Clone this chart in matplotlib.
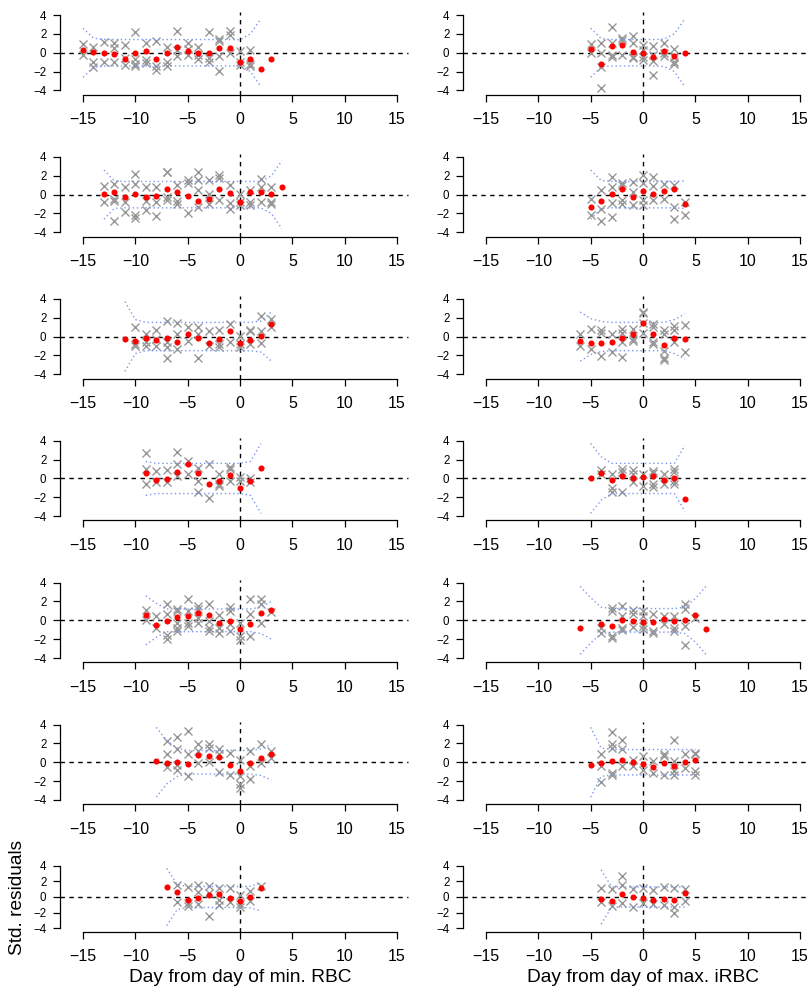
import numpy as np
import matplotlib
matplotlib.use('Agg')
import matplotlib.pyplot as plt

nan = np.nan

# ---------------------------------------------------------------------------
# left column: day from day of min. RBC
left_start = [-15, -13, -11, -9, -9, -8, -7]

left_mean = [
    [0.28, 0.1, 0, -0.1, -0.7, 0, 0.18, -0.7, 0, 0.63, 0.18, 0, 0, 0.46, 0.53, -1.0, -0.67, -1.73, -0.67],
    [0.05, 0.25, -0.28, 0.1, -0.28, -0.18, 0.57, 0.25, -0.18, -0.7, -0.42, 0.57, 0.18, -0.74, 0.25, 0.25, 0.07, 0.78],
    [-0.25, -0.43, -0.15, -0.36, -0.15, -0.54, 0.22, -0.15, -0.65, -0.25, 0.58, -0.65, -0.36, 0.04, 1.37],
    [0.58, -0.18, -0.07, 0.72, 1.55, 0.54, -0.61, -0.25, 0.4, -0.97, -0.25, 1.08],
    [0.58, -0.5, -0.1, 0.36, 0.47, 0.76, 0.58, -0.29, -0.07, -0.95, -0.4, 0.8, 1.09],
    [0.18, -0.07, 0.07, -0.14, 0.76, 0.65, 0.54, -0.32, -0.97, -0.04, 0.5, 0.83],
    [1.25, 0.6, -0.4, -0.1, 0.3, 0.35, -0.1, -0.5, 0.0, 1.1],
]

left_band = [
    [2.6, 1.55, 1.42, 1.4, 1.4, 1.4, 1.4, 1.4, 1.4, 1.4, 1.4, 1.4, 1.4, 1.4, 1.4, 1.38, 2.0, 3.6],
    [2.6, 1.45, 1.4, 1.4, 1.4, 1.4, 1.4, 1.4, 1.4, 1.4, 1.4, 1.4, 1.4, 1.4, 1.4, 1.4, 2.0, 3.6],
    [3.7, 1.8, 1.5, 1.5, 1.5, 1.5, 1.5, 1.5, 1.5, 1.5, 1.5, 1.5, 1.5, 1.65, 2.6],
    [1.8, 1.6, 1.6, 1.6, 1.6, 1.6, 1.6, 1.6, 1.6, 1.6, 1.8, 3.7],
    [2.6, 1.8, 1.2, 1.2, 1.2, 1.2, 1.2, 1.2, 1.2, 1.2, 1.2, 1.4, 2.0],
    [3.7, 2.3, 1.5, 1.25, 1.25, 1.25, 1.25, 1.25, 1.25, 1.25, 1.4, 1.9],
    [3.7, 1.6, 1.35, 1.35, 1.35, 1.35, 1.35, 1.35, 1.4, 1.8],
]

# single residuals, one list per day starting at left_start
left_resid = [
    [[0.9, -0.25], [0.65, -0.95, -1.5], [1.15, -0.95], [1.0, 0.45, -0.95], [0.8, -0.6, -1.3],
     [2.25, -0.7, -1.15, -1.4], [1.0, -0.8, -1.05], [1.2, -1.4, -1.85], [0.65, -0.95, -1.4],
     [2.35, 0.3, -0.35], [1.0, 0.35, -0.25], [0.65, -0.25, -0.7], [2.15, -0.6, -0.95],
     [1.5, 1.2, -0.35, -1.9], [2.35, 1.9, -0.05], [0.2, -0.95, -1.3], [0.3, -1.15, -1.4], [], []],
    [[0.9, -0.78], [1.15, -0.42, -0.67, -2.8], [0.8, -0.78, -1.85], [2.15, 1.15, -2.2, -2.5],
     [0.8, -0.7, -1.65], [0.8, -0.78, -2.3], [2.45, 2.35, -0.25, -0.6], [1.0, -0.67, -0.95],
     [1.5, 1.25, -1.95], [2.35, 1.6, 0.45, -1.3], [1.6, 0.1, -0.95], [2.05, 1.8, -0.6],
     [1.0, -0.9, -1.5], [0.1, -0.78, -1.15], [0.53, -0.78, -1.15], [1.7, 0.8, -0.78],
     [0.8, -0.78, -0.95], []],
    [[], [1.0, -0.8, -0.97], [0.22, -0.6, -0.97], [0.72, -0.25, -0.97], [1.65, -0.6, -1.15, -2.3],
     [1.45, 0.3, -1.33], [1.0, -0.43], [1.0, 0.3, -2.23], [0.58, -0.97], [0.72, -0.8, -1.08],
     [1.37, -0.6], [0.1, -0.8, -1.08], [0.72, 0.58, -0.8], [2.15, 0.58, -0.72], [1.9, 1.0]],
    [[2.7, 1.0, -0.61], [0.83, -0.43], [0.9, -0.36], [2.8, 1.55, 0.29], [1.9, 0.47],
     [1.08, -0.25, -1.4], [1.55, -2.05], [0.47, -0.61, -0.8], [1.26, 1.0, -0.25], [0.1, -0.25],
     [0.04, -0.43], []],
    [[1.09, 0.0], [0.47, -0.8], [1.75, 0.65, -1.53, -1.96], [1.2, 1.02, -0.25, -0.8, -1.16],
     [2.29, 1.02, -0.25, -0.62], [1.56, 1.2, 0.29, -0.25], [1.75, -0.07, -0.8, -1.16],
     [0.58, -0.8, -1.35], [1.45, 1.02, -0.44, -1.09], [-0.25, -1.71, -2.07], [2.29, 0.65, -1.71],
     [2.29, 1.75, -0.25], [0.84]],
    [[], [2.27, 0.83, -0.54], [2.63, 1.37, -0.25, -0.79], [3.28, 0.9, -1.51], [1.98, 1.19, -0.07],
     [1.9, 1.55, 0.0], [1.37, 0.83, -1.05], [1.0, -1.33], [0.29, -1.51, -2.34, -2.7],
     [1.19, -0.43, -1.77], [1.9, -0.07], [1.19, 0.47]],
    [[], [1.5, -0.6], [1.3, -0.8, -1.2], [1.5, 0.6, -0.9], [1.4, 0.5, -2.5], [1.2, -0.4, -1.0],
     [1.2, -0.6], [0.2, -0.9, -1.3], [0.8, -0.5], [1.4]],
]

# ---------------------------------------------------------------------------
# right column: day from day of max. iRBC
right_start = [-5, -5, -6, -5, -6, -5, -4]

right_mean = [
    [0.4, -1.2, 0.7, 0.8, 0.07, 0, -0.43, 0.2, -0.35, 0],
    [-1.35, -0.7, 0.04, 0.57, -0.28, 0.35, 0.07, 0.35, 0.57, -1.03],
    [-0.43, -0.65, -0.65, -0.58, -0.15, 0.3, 1.48, 0.3, -0.86, -0.15, -0.25],
    [0.04, 0.58, -0.18, 0.29, 0.04, 0.18, 0.29, -0.18, 0.04, -2.16],
    [-0.85, nan, -0.35, -0.6, 0, -0.07, -0.18, -0.18, 0.14, -0.07, 0, 0.57, -0.96],
    [-0.32, -0.04, 0.11, 0.29, 0, -0.22, -0.54, -0.11, -0.43, 0, 0.22],
    [-0.2, -0.5, 0.4, 0.0, -0.1, -0.4, -0.3, -0.4, 0.5],
]

right_band = [
    [2.6, 1.5, 1.4, 1.4, 1.4, 1.4, 1.4, 1.45, 2.0, 3.6],
    [2.6, 1.5, 1.4, 1.4, 1.4, 1.4, 1.4, 1.4, 1.4, 1.45],
    [2.6, 1.9, 1.6, 1.5, 1.5, 1.5, 1.5, 1.5, 1.5, 1.8, 2.4],
    [3.7, 2.3, 1.6, 1.6, 1.6, 1.6, 1.6, 1.6, 1.6, 3.5],
    [3.6, 2.4, 1.4, 1.25, 1.25, 1.25, 1.25, 1.25, 1.25, 1.25, 1.4, 2.3, 3.6],
    [3.7, 1.5, 1.35, 1.35, 1.35, 1.35, 1.35, 1.35, 1.35, 1.35, 1.35],
    [3.5, 1.3, 1.3, 1.3, 1.3, 1.3, 1.3, 1.3, 1.3],
]

right_resid = [
    [[0.9, 0], [1.0, 0, -1.5, -3.7], [2.75, 1.0, -0.25, -0.5], [1.6, 1.35, -0.25],
     [1.75, 1.0, -0.43, -0.6], [0.8, 0.3, -0.43, -0.8], [0.7, -0.25, -0.9, -2.4],
     [1.0, -0.07, -0.35], [0.35, -0.43, -0.95, -1.15], []],
    [[-0.42, -2.2], [0.45, -1.5, -2.8], [1.85, 0.8, -0.85, -2.35], [1.25, 1.0, -0.6, -0.95],
     [1.35, 0.28, -1.15], [2.05, 1.25, -0.6, -1.05], [1.85, 0.9, -0.6], [1.15, -0.42],
     [1.0, -1.3, -2.55], [-0.78, -2.2]],
    [[0.22, -0.97], [0.83, -1.33], [0.72, 0.36, -2.05], [0.22, -1.6], [0.83, 0.36, -0.6, -2.16],
     [0.83, -0.25, -0.5], [2.63, 2.45, 1.45, 0.36], [1.37, 1.0, -0.6, -0.8],
     [0.65, 0.3, -1.5, -2.23, -2.5], [1.08, 0.65, -0.6], [1.2, -1.6]],
    [[], [0.9, 0.47], [0.47, -0.97, -1.4], [1.0, 0.65, -1.4], [0.9, 0.47, -0.43], [0.47, -0.8],
     [0.83, 0.54, -0.61, -0.9], [0.47, -0.54], [1.0, 0.65, -0.25, -0.61], []],
    [[], [], [-0.78, -1.31], [1.35, 1.0, -1.66, -1.9], [1.52, 0.46, -0.78, -1.06],
     [1.06, 0.64, -0.71], [1.0, 0.46, -0.6, -0.96], [0.64, -1.13, -1.31], [0.46, -0.42],
     [0.46, -0.78, -1.13], [1.7, 1.17, -0.6, -2.62], [0.28], []],
    [[], [0.83, -0.43, -2.05], [3.17, 1.9, 1.55, -1.15, -1.33], [2.34, 1.37, -0.43], [0.29, -0.43],
     [0.65, -0.79], [0.18, -1.15], [0.83, 0.65, -1.33], [2.34, 0.11, -0.97, -1.33], [0.9, -0.61],
     [1.0, 0.83, -0.97, -1.4]],
    [[1.1, -0.6], [1.0, -1.2], [2.7, 1.5, -0.8], [1.0, -1.3], [1.2, -0.8], [0.9, -0.9],
     [1.3, -1.0], [1.2, -1.3, -2.0], [1.0, -0.5]],
]

x_ticks = [-15, -10, -5, 0, 5, 10, 15]
y_ticks = [-4, -2, 0, 2, 4]
x_labels = ['Day from day of min. RBC', 'Day from day of max. iRBC']
y_label = 'Std. residuals'

W, H = 809, 998


def add_px_axes(fig, x0, x1, top, bottom):
    return fig.add_axes([x0 / W, 1 - bottom / H, (x1 - x0) / W, (bottom - top) / H])


def draw_panel(ax, start, mean, band, resid):
    # reference lines
    ax.axhline(0, xmin=0, xmax=0.967, color='black', lw=1.0, ls=(0, (3.2, 3.2)), zorder=1)
    ax.axvline(0, color='black', lw=1.0, ls=(0, (3.2, 3.2)), zorder=1)

    xs, ys = [], []
    for i, vals in enumerate(resid):
        for v in vals:
            xs.append(start + i)
            ys.append(v)
    ax.plot(xs, ys, 'x', color='#979797', ms=5.5, mew=1.0, zorder=2)

    bx = np.arange(start, start + len(band))
    bb = np.array(band)
    ax.plot(bx, bb, color='#7b98ec', lw=1.0, ls=(0, (1, 2)), zorder=3)
    ax.plot(bx, -bb, color='#7b98ec', lw=1.0, ls=(0, (1, 2)), zorder=3)

    mx = np.arange(start, start + len(mean))
    ax.plot(mx, mean, 'o', color='#ff0000', ms=4.4, mew=0, zorder=4)

    ax.set_xlim(-17.2, 17.2)
    ax.set_ylim(-4.45, 4.32)
    for s in ['top', 'right']:
        ax.spines[s].set_visible(False)
    ax.spines['left'].set_bounds(-4, 4)
    ax.spines['bottom'].set_bounds(-15, 15)
    ax.spines['left'].set_linewidth(0.9)
    ax.spines['bottom'].set_linewidth(0.9)
    ax.set_xticks(x_ticks)
    ax.set_yticks(y_ticks)
    ax.tick_params(direction='out', length=4.8, width=0.9)
    ax.tick_params(axis='x', labelsize=11.5, pad=8)
    ax.tick_params(axis='y', labelsize=8.3, pad=5)
    ax.patch.set_alpha(0)


plt.rcParams['font.family'] = ['Liberation Sans', 'DejaVu Sans']

fig = plt.figure(figsize=(W / 100, H / 100), dpi=100)

col_x = [(60, 420), (463, 823)]
row_step = 141.9

# last row has a larger bottom margin (room for the x titles), so its panel is shorter
row_top = [12 + r * row_step for r in range(6)] + [863.5]
row_bottom = [94.7 + r * row_step for r in range(6)] + [931.5]

for r in range(7):
    top = row_top[r]
    bottom = row_bottom[r]
    ax = add_px_axes(fig, col_x[0][0], col_x[0][1], top, bottom)
    draw_panel(ax, left_start[r], left_mean[r], left_band[r], left_resid[r])
    ax = add_px_axes(fig, col_x[1][0], col_x[1][1], top, bottom)
    draw_panel(ax, right_start[r], right_mean[r], right_band[r], right_resid[r])

# axis titles
for c in range(2):
    xc = (col_x[c][0] + col_x[c][1]) / 2
    fig.text(xc / W, 1 - 978 / H, x_labels[c], fontsize=13.8, ha='center', va='center')
fig.text(18 / W, 1 - 897 / H, y_label, fontsize=13.8, rotation=90, ha='center', va='center')

fig.savefig('out.png', dpi=100)
